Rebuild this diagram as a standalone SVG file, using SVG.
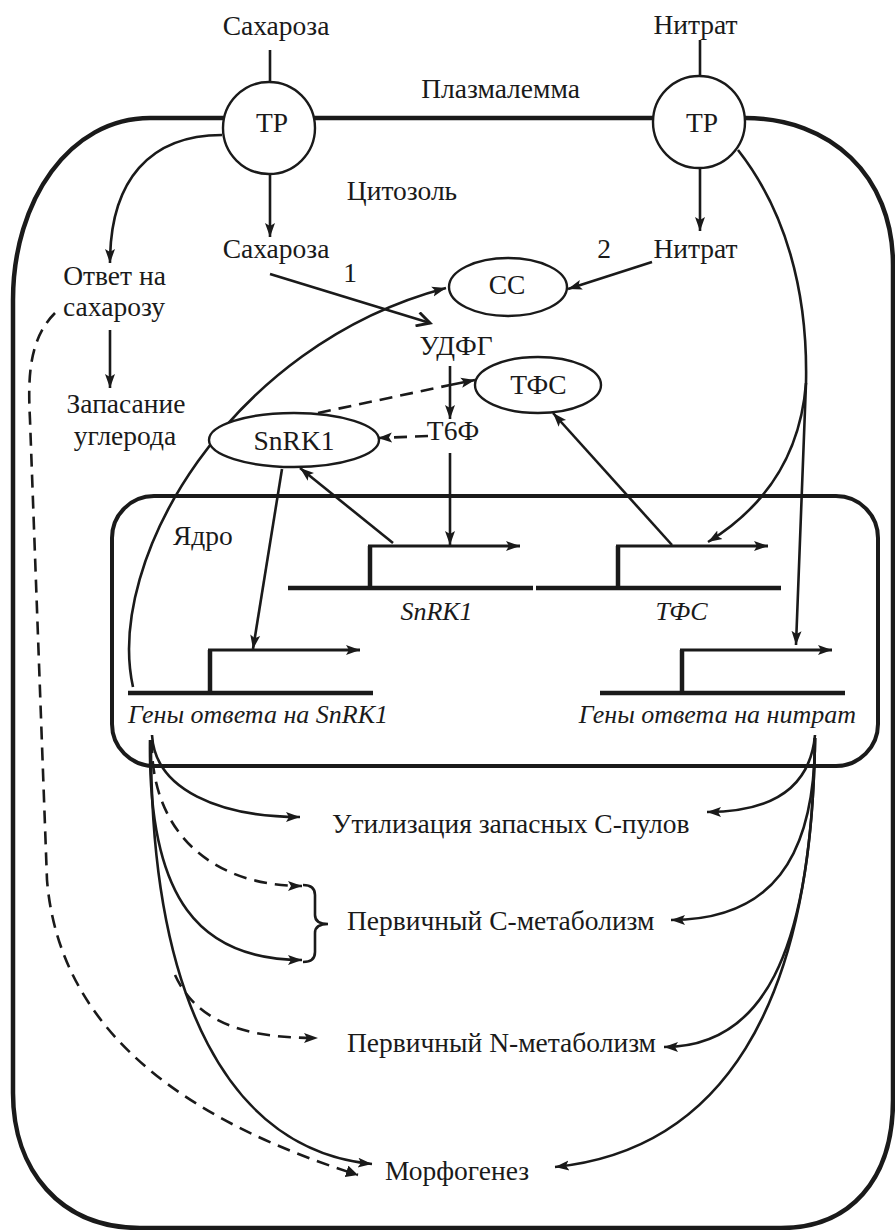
<svg xmlns="http://www.w3.org/2000/svg" width="895" height="1230" viewBox="0 0 895 1230">
<defs>
<marker id="ah" markerUnits="userSpaceOnUse" markerWidth="15" markerHeight="12" refX="14" refY="6" orient="auto">
<path d="M0,1 L14,6 L0,11 L3,6 z" fill="#1a1a1a"/>
</marker>
<marker id="av" markerUnits="userSpaceOnUse" markerWidth="18" markerHeight="16" refX="15" refY="8" orient="auto">
<path d="M2,1 L15,8 L2,15" fill="none" stroke="#1a1a1a" stroke-width="3"/>
</marker>
<marker id="at" markerUnits="userSpaceOnUse" markerWidth="14" markerHeight="12" refX="12" refY="6" orient="auto">
<path d="M0,0 L12,6 L0,12 z" fill="#1a1a1a"/>
</marker>
</defs>
<style>
text{font-family:"Liberation Serif","Times New Roman",serif;font-size:27.5px;fill:#1a1a1a}
.it{font-style:italic;font-size:26px}
.ln{fill:none;stroke:#1a1a1a;stroke-width:2.6}
.ds{stroke-dasharray:13,8}
.mem{fill:none;stroke:#1a1a1a;stroke-width:4.5}
.gene{fill:none;stroke:#1a1a1a;stroke-width:4.5}
.prom{fill:none;stroke:#1a1a1a;stroke-width:3}
.node{fill:#fff;stroke:#1a1a1a;stroke-width:2.4}
</style>
<rect width="895" height="1230" fill="#fff"/>

<g id="cell">
<path class="mem" d="M150,118 H745 C830,118 893,175 893,265 V1100 C893,1180 850,1228 781,1228 H140 C60,1228 13,1170 13,1093 V300 C13,200 70,118 150,118 Z"/>
</g>
<g id="nucleus">
<rect class="mem" x="112" y="496" width="766" height="270" rx="42" ry="42" style="stroke-width:4"/>
<text x="173" y="545">Ядро</text>
</g>

<g id="connectors">
<line class="ln" x1="270" y1="50" x2="270" y2="82"/>
<line class="ln" x1="700" y1="40" x2="700" y2="76"/>
<line class="ln" x1="270" y1="170" x2="270" y2="237" marker-end="url(#ah)"/>
<line class="ln" x1="700" y1="168" x2="700" y2="231" marker-end="url(#ah)"/>
<path class="ln" d="M222,135 C150,135 110,180 110,263" marker-end="url(#ah)"/>
<line class="ln" x1="110" y1="330" x2="110" y2="388" marker-end="url(#ah)"/>
<line class="ln" x1="652" y1="262" x2="568" y2="289" marker-end="url(#ah)"/>
<line class="ln" x1="270" y1="274" x2="430" y2="323" marker-end="url(#av)"/>
<path class="ln" d="M133,687 C105,560 230,345 446,288" marker-end="url(#ah)"/>
<line class="ln" x1="450" y1="366" x2="450" y2="419" marker-end="url(#ah)"/>
<line class="ln ds" x1="318" y1="413" x2="450" y2="385"/>
<line class="ln" x1="450" y1="385" x2="475" y2="380" marker-end="url(#ah)"/>
<line class="ln ds" x1="428" y1="436" x2="378" y2="438" marker-end="url(#ah)"/>
<line class="ln" x1="450" y1="453" x2="450" y2="545" marker-end="url(#ah)"/>
<line class="ln" x1="393" y1="543" x2="300" y2="468" marker-end="url(#ah)"/>
<line class="ln" x1="282" y1="469" x2="253" y2="649" marker-end="url(#ah)"/>
<line class="ln" x1="672" y1="545" x2="553" y2="413" marker-end="url(#ah)"/>
<path class="ln" d="M738,150 C785,210 808,290 806,383 L796,645" marker-end="url(#ah)"/>
<path class="ln" d="M806,383 C800,460 760,510 708,542" marker-end="url(#ah)"/>
<path class="ln ds" d="M55,313 C28,340 28,380 30,420 L47,880 C60,1040 200,1125 358,1175" marker-end="url(#at)"/>
<path class="ln" d="M152,735 C155,790 220,817 300,817" marker-end="url(#ah)"/>
<path class="ln ds" d="M152,740 C150,830 210,886 302,886" marker-end="url(#ah)"/>
<path class="ln" d="M150,740 C148,900 200,960 302,960" marker-end="url(#ah)"/>
<path class="ln" d="M151,740 C150,1000 230,1150 372,1164" marker-end="url(#ah)"/>
<path class="ln ds" d="M175,975 C200,1030 260,1038 318,1038" marker-end="url(#ah)"/>
<path class="ln" d="M303,885 Q315,885 315,895 V915 Q315,924 328,924 Q315,924 315,933 V952 Q315,962 303,962"/>
<path class="ln" d="M815,735 C810,790 770,812 707,812" marker-end="url(#ah)"/>
<path class="ln" d="M815,738 C815,860 770,920 671,920" marker-end="url(#ah)"/>
<path class="ln" d="M815,738 C812,960 760,1047 664,1047" marker-end="url(#ah)"/>
<path class="ln" d="M815,738 C812,1010 720,1150 555,1167" marker-end="url(#ah)"/>
</g>

<g id="tp-left"><circle class="node" cx="269" cy="128" r="46"/><text x="272" y="132" text-anchor="middle">ТР</text></g>
<g id="tp-right"><circle class="node" cx="699" cy="122" r="46"/><text x="702" y="132" text-anchor="middle">ТР</text></g>
<g id="sucrose-out"><text x="276" y="35" text-anchor="middle">Сахароза</text></g>
<g id="nitrate-out"><text x="695.5" y="34" text-anchor="middle">Нитрат</text></g>
<g id="plasmalemma"><text x="500.5" y="98" text-anchor="middle">Плазмалемма</text></g>
<g id="cytosol"><text x="402" y="200" text-anchor="middle">Цитозоль</text></g>
<g id="sucrose-in"><text x="276" y="258" text-anchor="middle">Сахароза</text></g>
<g id="nitrate-in"><text x="695.5" y="258" text-anchor="middle">Нитрат</text></g>
<g id="label1"><text x="350" y="282" text-anchor="middle">1</text></g>
<g id="label2"><text x="604" y="258" text-anchor="middle">2</text></g>
<g id="sucrose-response"><text x="114.5" y="285" text-anchor="middle">Ответ на</text><text x="114" y="316" text-anchor="middle">сахарозу</text></g>
<g id="carbon-storage"><text x="126" y="413" text-anchor="middle">Запасание</text><text x="125" y="445" text-anchor="middle">углерода</text></g>
<g id="ss"><ellipse class="node" cx="508" cy="287" rx="59" ry="29"/><text x="507" y="294" text-anchor="middle">СС</text></g>
<g id="udpg"><text x="456" y="355" text-anchor="middle">УДФГ</text></g>
<g id="tps"><ellipse class="node" cx="538" cy="385" rx="63" ry="28"/><text x="538.5" y="394" text-anchor="middle">ТФС</text></g>
<g id="t6p"><text x="453" y="440" text-anchor="middle">Т6Ф</text></g>
<g id="snrk1"><ellipse class="node" cx="294" cy="440" rx="85" ry="27"/><text x="294" y="450" text-anchor="middle">SnRK1</text></g>

<g id="gene-snrk1">
<line class="gene" x1="288" y1="588" x2="533" y2="588"/>
<path class="gene" d="M370,588 V546"/>
<line class="prom" x1="368" y1="546" x2="520" y2="546" marker-end="url(#ah)"/>
<text class="it" x="436.5" y="620" text-anchor="middle">SnRK1</text>
</g>
<g id="gene-tps">
<line class="gene" x1="536" y1="588" x2="781" y2="588"/>
<path class="gene" d="M618,588 V546"/>
<line class="prom" x1="616" y1="546" x2="768" y2="546" marker-end="url(#ah)"/>
<text class="it" x="681.5" y="620" text-anchor="middle">ТФС</text>
</g>
<g id="gene-snrk1-response">
<line class="gene" x1="128" y1="693" x2="373" y2="693"/>
<path class="gene" d="M210,693 V650"/>
<line class="prom" x1="208" y1="650" x2="360" y2="650" marker-end="url(#ah)"/>
<text class="it" x="128" y="723">Гены ответа на SnRK1</text>
</g>
<g id="gene-nitrate-response">
<line class="gene" x1="600" y1="693" x2="845" y2="693"/>
<path class="gene" d="M682,693 V650"/>
<line class="prom" x1="680" y1="650" x2="832" y2="650" marker-end="url(#ah)"/>
<text class="it" x="856" y="723" text-anchor="end">Гены ответа на нитрат</text>
</g>

<g id="c-pools"><text x="332" y="833">Утилизация запасных С-пулов</text></g>
<g id="c-metab"><text x="347" y="930">Первичный С-метаболизм</text></g>
<g id="n-metab"><text x="347" y="1052">Первичный N-метаболизм</text></g>
<g id="morph"><text x="385" y="1180">Морфогенез</text></g>
</svg>
